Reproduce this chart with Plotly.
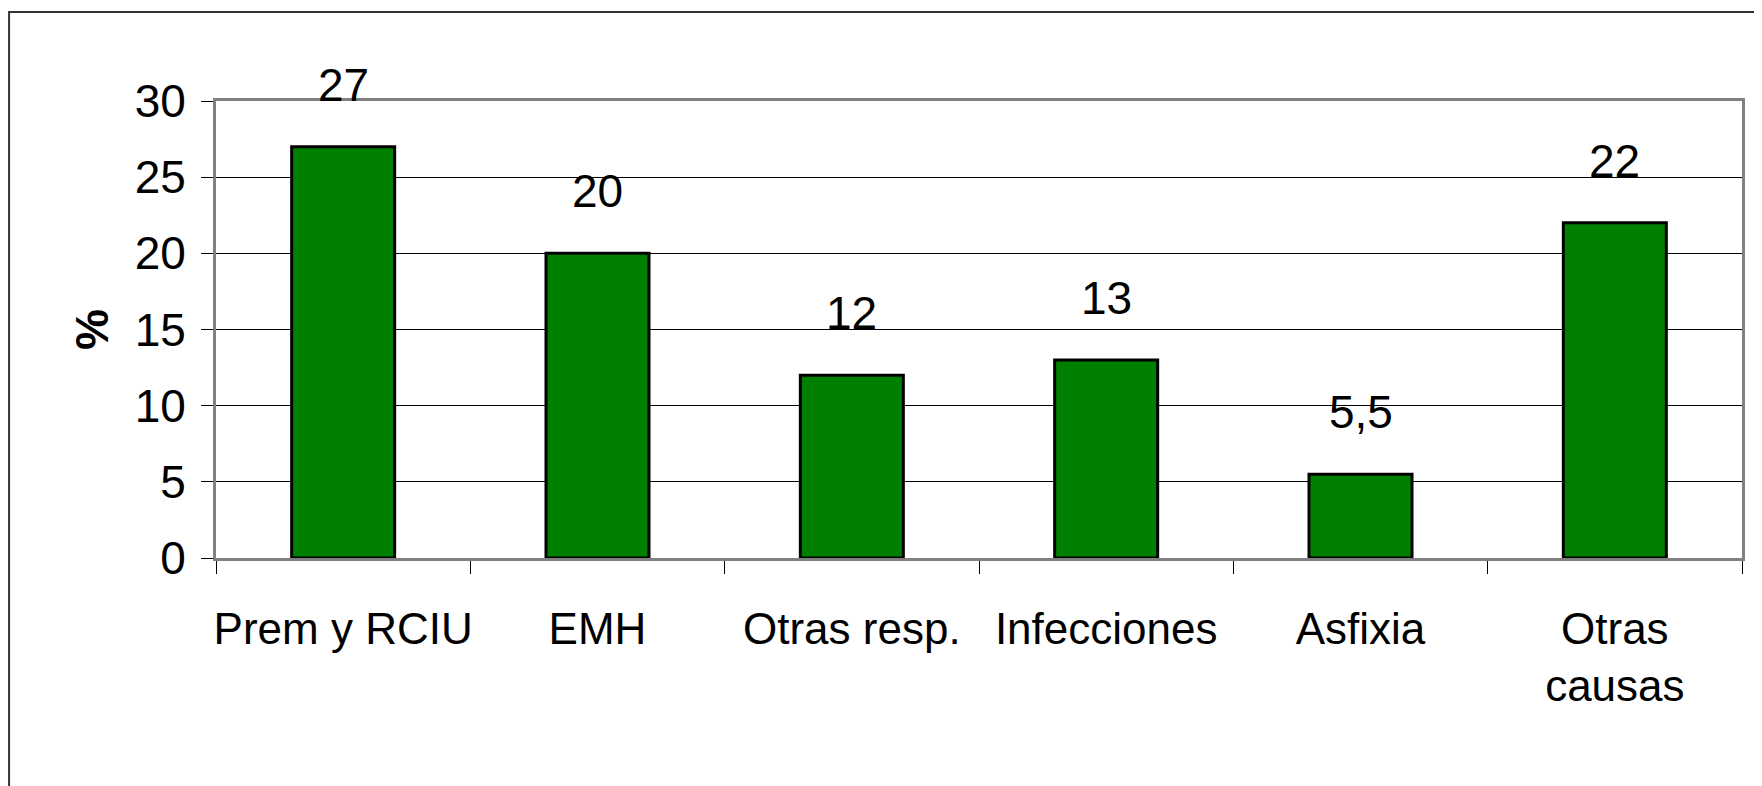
import plotly.graph_objects as go

categories = ["Prem y RCIU", "EMH", "Otras resp.", "Infecciones", "Asfixia", "Otras<br>causas"]
values = [27, 20, 12, 13, 5.5, 22]
value_labels = ["27", "20", "12", "13", "5,5", "22"]
y_ticks = [0, 5, 10, 15, 20, 25, 30]

FONT = "Liberation Sans Narrow, Arial Narrow, Liberation Sans, Arial, sans-serif"
FS = 46

fig = go.Figure()
fig.add_trace(go.Bar(
    x=categories, y=values,
    marker=dict(color="#008000", line=dict(color="black", width=3)),
    hoverinfo="skip",
))

for c, v, t in zip(categories, values, value_labels):
    fig.add_annotation(x=c, y=v, text=t, showarrow=False, yanchor="bottom",
                       yshift=34, font=dict(family=FONT, size=FS, color="black"))

fig.add_shape(type="rect", xref="paper", yref="paper",
              x0=-0.1356, y0=-0.6, x1=1.05, y1=1.1945,
              line=dict(color="#333333", width=2), layer="below")

fig.update_layout(
    width=1762, height=786,
    margin=dict(l=208, r=28, t=93, b=236, autoexpand=False),
    paper_bgcolor="white", plot_bgcolor="white",
    bargap=0.595, showlegend=False,
    font=dict(family=FONT, size=FS, color="black"),
)
fig.update_xaxes(
    showline=True, linecolor="#808080", linewidth=3, mirror=True,
    ticks="outside", tickson="boundaries", ticklen=13, tickcolor="black", tickwidth=1,
    showgrid=False, ticklabelstandoff=30, tickangle=0, automargin=False,
    tickfont=dict(family=FONT, size=44),
)
fig.update_yaxes(
    range=[0, 30], tickvals=y_ticks,
    showline=True, linecolor="#808080", linewidth=3, mirror=True,
    ticks="outside", ticklen=12, tickcolor="black", tickwidth=1,
    showgrid=True, gridcolor="black", gridwidth=1, zeroline=False,
    ticklabelstandoff=6, automargin=False,
    tickfont=dict(family=FONT, size=FS),
    title=dict(text="<b>%</b>", font=dict(family=FONT, size=FS), standoff=12),
)

fig.write_html("out.html")
